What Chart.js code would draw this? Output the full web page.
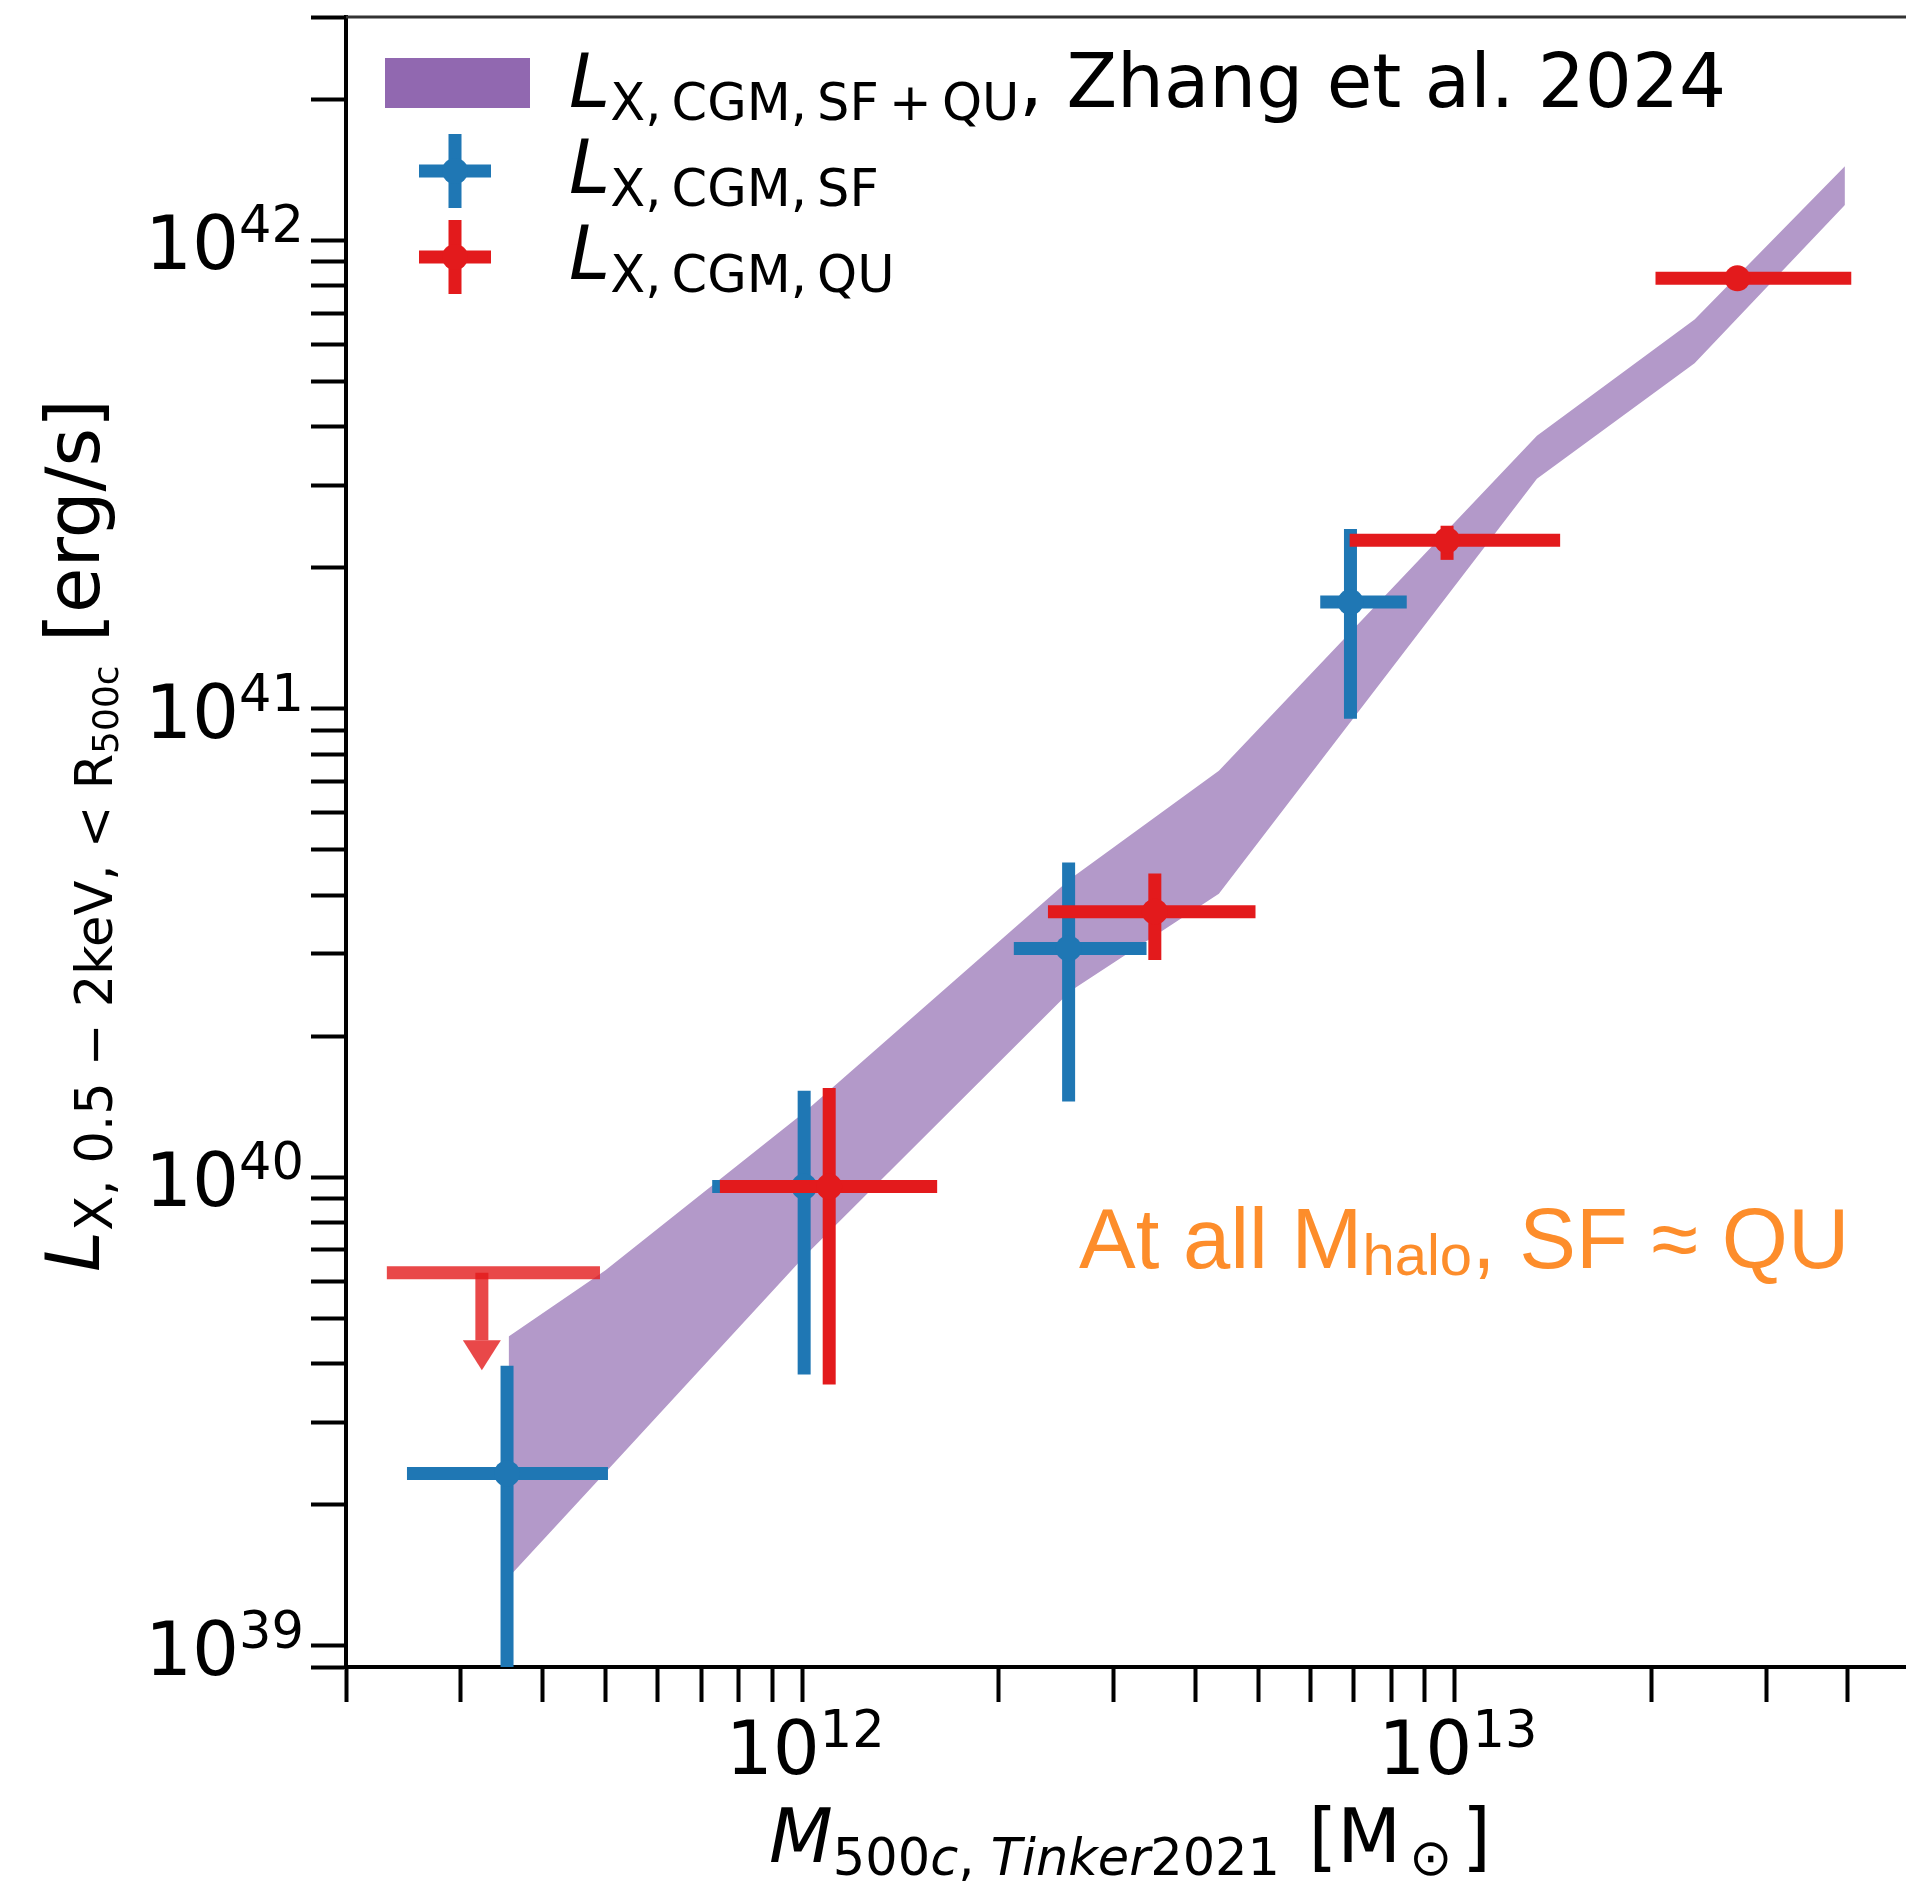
<!DOCTYPE html>
<html lang="en">
<head>
<meta charset="UTF-8">
<title>CGM X-ray luminosity vs halo mass</title>
<script src="https://cdn.jsdelivr.net/npm/chart.js@4.4.0/dist/chart.umd.min.js"></script>
<style>
  html, body { margin: 0; padding: 0; background: #fff; overflow: hidden; }
  canvas { display: block; }
</style>
</head>
<body>
<canvas id="chart" width="1924" height="1885"></canvas>
<script>
// Zhang et al. 2024 band (SF+QU): halo mass and lower / upper edge of L_X
const bandMass = [3.55e11, 4.99e11, 1.01e12, 2.58e12, 4.35e12, 1.336e13, 2.33e13, 3.96e13];
const bandLow  = [1.40e39, 2.34e39, 6.80e39, 2.50e40, 4.03e40, 3.10e41, 5.47e41, 1.19e42];
const bandHigh = [4.57e39, 6.32e39, 1.38e40, 4.34e40, 7.38e40, 3.83e41, 6.78e41, 1.44e42];

// star-forming (SF) stacks
const sfMass   = [3.53e11, 1.007e12, 2.56e12, 6.92e12];
const sfMassLo = [2.48e11, 7.28e11, 2.11e12, 6.22e12];
const sfMassHi = [5.04e11, 1.57e12, 3.37e12, 8.44e12];
const sfLum    = [2.33e39, 9.55e39, 3.08e40, 1.69e41];
const sfLumLo  = [5.0e38, 3.79e39, 1.45e40, 9.53e40];
const sfLumHi  = [3.96e39, 1.53e40, 4.70e40, 2.42e41];

// quiescent (QU) stacks
const quMass   = [1.10e12, 3.47e12, 9.73e12, 2.71e13];
const quMassLo = [7.48e11, 2.38e12, 6.90e12, 2.03e13];
const quMassHi = [1.61e12, 4.95e12, 1.45e13, 4.05e13];
const quLum    = [9.55e39, 3.69e40, 2.29e41, 8.30e41];
const quLumLo  = [3.61e39, 2.91e40, 2.08e41, 7.98e41];
const quLumHi  = [1.55e40, 4.45e40, 2.46e41, 8.63e41];

// QU upper limit in the lowest mass bin
const quLimMass   = 3.23e11;
const quLimMassLo = 2.31e11;
const quLimMassHi = 4.90e11;
const quLimLum    = 6.25e39;
const quLimTip    = 3.87e39;

// axes
const xRange = [2e11, 5e13];
const yRange = [9e38, 3e42];
const xMajor = [1e12, 1e13];
const xMajorExp = ['12', '13'];
const yMajor = [1e39, 1e40, 1e41, 1e42];
const yMajorExp = ['39', '40', '41', '42'];

const BLUE = 'rgb(31,119,180)';
const RED = 'rgb(227,26,28)';
const RED_LIM = 'rgba(227,26,28,0.8)';
const BAND = 'rgb(179,153,201)';
const BAND_LEGEND = 'rgb(145,104,176)';
const ORANGE = 'rgb(253,141,43)';

const FAM = '"DejaVu Sans", sans-serif';
const fMain = '74px ' + FAM;
const fIt = 'italic 74px ' + FAM;
const fSub = '51px ' + FAM;
const fSubIt = 'italic 51px ' + FAM;
const fSub2 = '36px ' + FAM;
const THIN = '\u2009';

// log ticks 1..9 x 10^n inside the range (matplotlib minor + major ticks)
function logTicks(min, max) {
  const out = [];
  for (let e = Math.floor(Math.log10(min)); e <= Math.ceil(Math.log10(max)); e++) {
    for (let d = 1; d <= 9; d++) {
      const v = d * Math.pow(10, e);
      if (v >= min * 0.999 && v <= max * 1.001) out.push({ value: v });
    }
  }
  return out;
}

const barStyle = (color, order) => ({
  type: 'line', borderColor: color, borderWidth: 13, borderCapStyle: 'butt',
  pointRadius: 0, pointHoverRadius: 0, fill: false, tension: 0, clip: 0, order: order
});

function errorBars(xs, xlo, xhi, ys, ylo, yhi, color, order) {
  const sets = [];
  xs.forEach((x, i) => {
    sets.push(Object.assign({ data: [{ x: xlo[i], y: ys[i] }, { x: xhi[i], y: ys[i] }] }, barStyle(color, order)));
    sets.push(Object.assign({ data: [{ x: x, y: ylo[i] }, { x: x, y: yhi[i] }] }, barStyle(color, order)));
  });
  return sets;
}

function markers(xs, ys, color, order) {
  return {
    type: 'line', showLine: false, data: xs.map((x, i) => ({ x: x, y: ys[i] })),
    pointRadius: 13, pointHoverRadius: 13, pointBackgroundColor: color,
    pointBorderWidth: 0, clip: 0, order: order
  };
}

const datasets = [
  { type: 'line', data: bandMass.map((m, i) => ({ x: m, y: bandHigh[i] })),
    borderWidth: 0, borderColor: 'rgba(0,0,0,0)', pointRadius: 0, fill: false, tension: 0, order: 10 },
  { type: 'line', data: bandMass.map((m, i) => ({ x: m, y: bandLow[i] })),
    borderWidth: 0, borderColor: 'rgba(0,0,0,0)', pointRadius: 0, fill: '-1',
    backgroundColor: BAND, tension: 0, order: 10 },
  ...errorBars(sfMass, sfMassLo, sfMassHi, sfLum, sfLumLo, sfLumHi, BLUE, 6),
  markers(sfMass, sfLum, BLUE, 5),
  Object.assign({ data: [{ x: quLimMassLo, y: quLimLum }, { x: quLimMassHi, y: quLimLum }] }, barStyle(RED_LIM, 4)),
  ...errorBars(quMass, quMassLo, quMassHi, quLum, quLumLo, quLumHi, RED, 3),
  markers(quMass, quLum, RED, 2)
];

function drawRuns(ctx, runs, x, y) {
  let cx = x;
  runs.forEach(r => {
    ctx.font = r.font;
    cx += r.gap || 0;
    ctx.fillText(r.text, cx, y + (r.dy || 0));
    cx += ctx.measureText(r.text).width;
  });
  return cx - x;
}

function runsWidth(ctx, runs) {
  let w = 0;
  runs.forEach(r => { ctx.font = r.font; w += (r.gap || 0) + ctx.measureText(r.text).width; });
  return w;
}

const decor = {
  id: 'decor',
  afterDatasetsDraw(chart) {
    const { ctx, scales: { x, y } } = chart;
    // downward arrow of the upper limit
    const px = x.getPixelForValue(quLimMass);
    const p0 = y.getPixelForValue(quLimLum);
    const tip = y.getPixelForValue(quLimTip);
    const head = 30;
    ctx.save();
    ctx.strokeStyle = RED_LIM;
    ctx.fillStyle = RED_LIM;
    ctx.lineWidth = 13;
    ctx.beginPath();
    ctx.moveTo(px, p0);
    ctx.lineTo(px, tip - head);
    ctx.stroke();
    ctx.beginPath();
    ctx.moveTo(px - 19, tip - head);
    ctx.lineTo(px + 19, tip - head);
    ctx.lineTo(px, tip);
    ctx.closePath();
    ctx.fill();
    ctx.restore();
  },
  afterDraw(chart) {
    const { ctx, chartArea: ca, scales: { x, y } } = chart;
    ctx.save();
    // top spine
    ctx.strokeStyle = '#333';
    ctx.lineWidth = 3;
    ctx.beginPath();
    ctx.moveTo(ca.left, ca.top);
    ctx.lineTo(ca.right, ca.top);
    ctx.stroke();

    ctx.fillStyle = '#000';
    ctx.textBaseline = 'alphabetic';
    ctx.textAlign = 'left';

    // tick labels
    yMajor.forEach((v, i) => {
      const runs = [{ text: '10', font: fMain }, { text: yMajorExp[i], font: fSub, dy: -27 }];
      const w = runsWidth(ctx, runs);
      drawRuns(ctx, runs, ca.left - 42 - w, y.getPixelForValue(v) + 29);
    });
    xMajor.forEach((v, i) => {
      const runs = [{ text: '10', font: fMain }, { text: xMajorExp[i], font: fSub, dy: -27 }];
      const w = runsWidth(ctx, runs);
      drawRuns(ctx, runs, x.getPixelForValue(v) - w / 2 + 3, ca.bottom + 107);
    });

    // x title
    drawRuns(ctx, [
      { text: 'M', font: fIt },
      { text: '500', font: fSub, dy: 13 },
      { text: 'c', font: fSubIt, dy: 13 },
      { text: ', ', font: fSub, dy: 13 },
      { text: 'Tinker', font: fSubIt, dy: 13 },
      { text: '2021', font: fSub, dy: 13 },
      { text: ' [M', font: fMain, gap: 5 },
      { text: '\u2299', font: fSub, dy: 13, gap: 8 },
      { text: ']', font: fMain, gap: 10 }
    ], 769, 1862);

    // y title (rotated)
    ctx.save();
    ctx.translate(99, 1272);
    ctx.rotate(-Math.PI / 2);
    drawRuns(ctx, [
      { text: 'L', font: fIt },
      { text: 'X, 0.5 \u2212 2keV, < R', font: fSub, dy: 13 },
      { text: '500c', font: fSub2, dy: 19 },
      { text: ' [erg/s]', font: fMain }
    ], 0, 0);
    ctx.restore();

    // legend
    ctx.fillStyle = BAND_LEGEND;
    ctx.fillRect(385, 58, 145, 50);
    const crosses = [[BLUE, 171], [RED, 257]];
    crosses.forEach(([c, cy]) => {
      ctx.strokeStyle = c;
      ctx.fillStyle = c;
      ctx.lineWidth = 13;
      ctx.beginPath();
      ctx.moveTo(455, cy - 37); ctx.lineTo(455, cy + 37);
      ctx.moveTo(419, cy); ctx.lineTo(491, cy);
      ctx.stroke();
      ctx.beginPath();
      ctx.arc(455, cy, 13, 0, Math.PI * 2);
      ctx.fill();
    });
    ctx.fillStyle = '#000';
    drawRuns(ctx, [
      { text: 'L', font: fIt },
      { text: 'X,' + THIN + 'CGM,' + THIN + 'SF' + THIN + '+' + THIN + 'QU', font: fSub, dy: 13 },
      { text: ', Zhang et al. 2024', font: fMain }
    ], 569, 107);
    drawRuns(ctx, [
      { text: 'L', font: fIt },
      { text: 'X,' + THIN + 'CGM,' + THIN + 'SF', font: fSub, dy: 13 }
    ], 569, 193);
    drawRuns(ctx, [
      { text: 'L', font: fIt },
      { text: 'X,' + THIN + 'CGM,' + THIN + 'QU', font: fSub, dy: 13 }
    ], 569, 279);

    // annotation
    ctx.fillStyle = ORANGE;
    const AF = '"Liberation Sans", Arial, sans-serif';
    drawRuns(ctx, [
      { text: 'At all M', font: '85px ' + AF },
      { text: 'halo', font: '58px ' + AF, dy: 7 },
      { text: ', SF \u2248 QU', font: '85px ' + AF }
    ], 1079, 1268);
    ctx.restore();
  }
};

const axisCommon = {
  type: 'logarithmic',
  ticks: { display: false, autoSkip: false },
  grid: { display: true, drawOnChartArea: false, drawTicks: true, tickLength: 35, tickWidth: 4, tickColor: '#000', color: '#000' },
  border: { display: true, color: '#000', width: 4 }
};

new Chart(document.getElementById('chart').getContext('2d'), {
  type: 'line',
  data: { datasets: datasets },
  options: {
    responsive: false,
    animation: false,
    events: [],
    layout: { padding: { top: 17, right: 2, left: 0, bottom: 0 } },
    plugins: { legend: { display: false }, tooltip: { enabled: false } },
    scales: {
      x: Object.assign({}, axisCommon, {
        position: 'bottom', min: xRange[0], max: xRange[1],
        afterBuildTicks: s => { s.ticks = logTicks(xRange[0], xRange[1]); },
        afterFit: s => { s.height = 218; }
      }),
      y: Object.assign({}, axisCommon, {
        position: 'left', min: yRange[0], max: yRange[1],
        afterBuildTicks: s => { s.ticks = logTicks(yRange[0], yRange[1]); },
        afterFit: s => { s.width = 346; }
      })
    }
  },
  plugins: [decor]
});
</script>
</body>
</html>
